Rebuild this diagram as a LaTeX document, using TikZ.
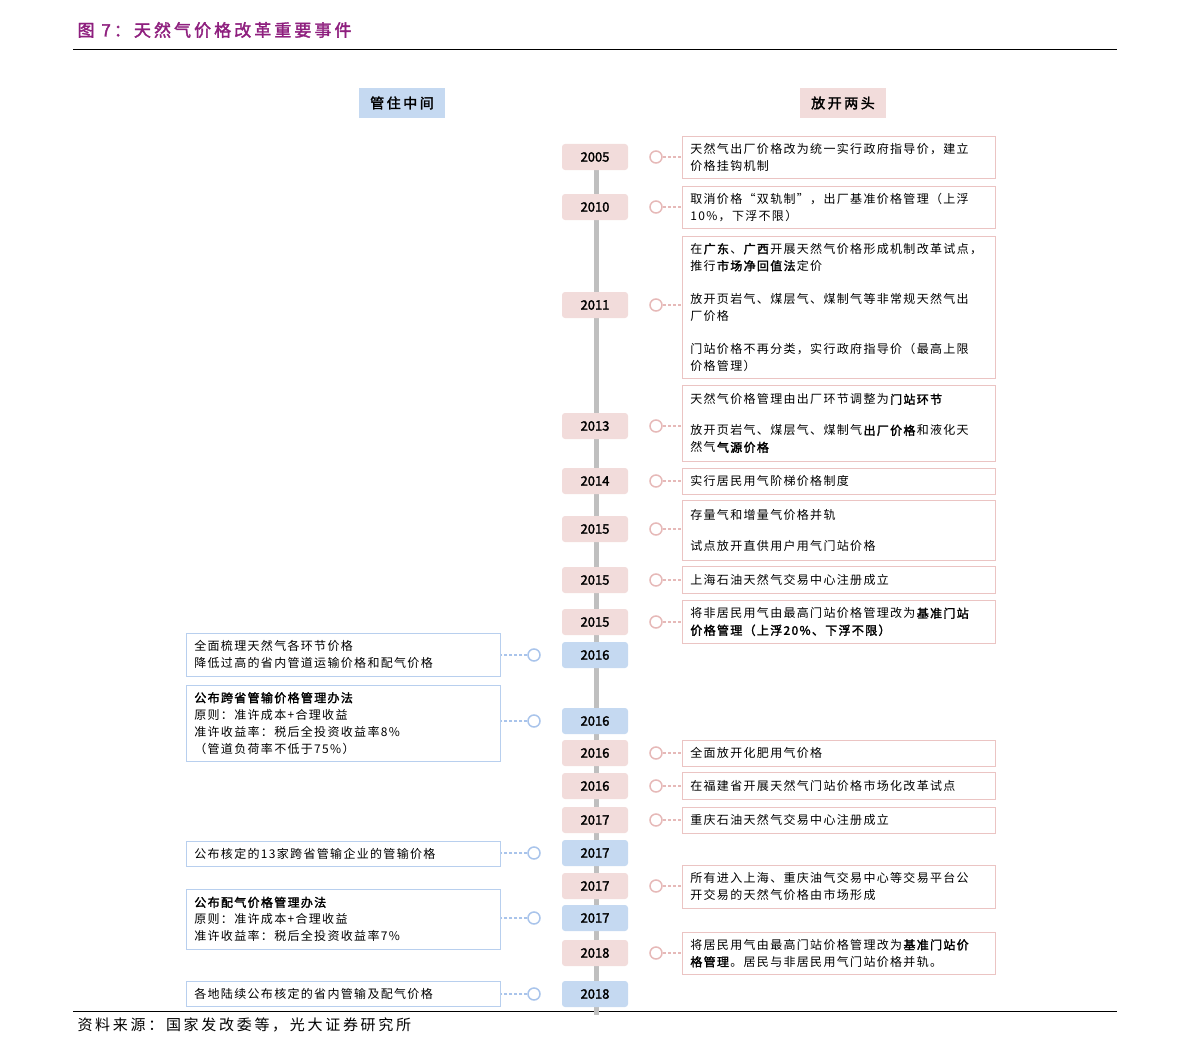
\documentclass[tikz,border=0pt]{standalone}
\usepackage{fontspec}
\setmainfont{Noto Sans CJK SC}[AutoFakeBold=2]
\newfontfamily\spc{Noto Sans CJK SC}[LetterSpace=18,AutoFakeBold=2]
\newfontfamily\spm{Noto Sans CJK SC}[LetterSpace=11,AutoFakeBold=2]
\definecolor{pk}{HTML}{F2DCDB}
\definecolor{pkl}{HTML}{EBC4C3}
\definecolor{pkc}{HTML}{E6B9B8}
\definecolor{bl}{HTML}{C5D9F1}
\definecolor{bll}{HTML}{B8CFEE}
\definecolor{blc}{HTML}{A9C4EB}
\definecolor{ttl}{HTML}{8E1F7E}
\begin{document}
\begin{tikzpicture}[x=1pt,y=-1pt,
  yr/.style={rounded corners=3pt,minimum width=66pt,minimum height=26pt,font=\fontsize{13}{14}\selectfont\bfseries,inner sep=0pt},
  ypk/.style={yr,fill=pk},
  ybl/.style={yr,fill=bl},
  rbox/.style={draw=pkl,line width=0.7pt,text width=297pt,minimum width=313pt,inner xsep=8pt,align=left,font=\spm\fontsize{12}{17}\selectfont,anchor=north west},
  lbox/.style={draw=bll,line width=0.7pt,text width=298pt,minimum width=314pt,inner xsep=8pt,align=left,font=\spm\fontsize{12}{17}\selectfont,anchor=north west},
  rc/.style={circle,draw=pkc,line width=1.5pt,minimum size=12pt,inner sep=0pt},
  lc/.style={circle,draw=blc,line width=1.5pt,minimum size=12pt,inner sep=0pt},
  rl/.style={draw=pkc,line width=1.3pt,dash pattern=on 3pt off 2pt},
  ll/.style={draw=blc,line width=1.3pt,dash pattern=on 3pt off 2pt}]
\useasboundingbox (0,0) rectangle (1191,1054);
\node[anchor=west,text=ttl,font=\spc\fontsize{17}{18}\selectfont\bfseries] (title) at (74,30) {图 7：天然气价格改革重要事件};
\draw[line width=0.8pt] (73,49) -- (1117,49);
\draw[line width=0.8pt] (73,1011) -- (1117,1011);
\node[anchor=west,font=\spc\fontsize{15}{16}\selectfont] (src) at (74,1025) {资料来源：国家发改委等，光大证券研究所};
\node[fill=bl,minimum width=86pt,minimum height=30pt,font=\spc\fontsize{14}{15}\selectfont\bfseries] (hl) at (402,103) {管住中间};
\node[fill=pk,minimum width=86pt,minimum height=30pt,font=\spc\fontsize{14}{15}\selectfont\bfseries] (hr) at (843,103) {放开两头};
\draw[line width=5pt,color=black!25] (596,145) -- (596,1015);
\newcommand\rev[6]{%
 \node[ypk] (y#1) at (595,#2) {#3};
 \node[rc] (c#1) at (656,#2) {};
 \node[rbox,minimum height=#5pt] (b#1) at (682,#4) {#6};
 \draw[rl] (c#1.east) -- (b#1.west |- c#1);}
\newcommand\lev[6]{%
 \node[ybl] (y#1) at (595,#2) {#3};
 \node[lc] (c#1) at (534,#2) {};
 \node[lbox,minimum height=#5pt] (b#1) at (186,#4) {#6};
 \draw[ll] (c#1.west) -- (b#1.east |- c#1);}
\rev{a}{157}{2005}{136}{42}{天然气出厂价格改为统一实行政府指导价，建立\\价格挂钩机制}
\rev{b}{207}{2010}{186}{42}{取消价格“双轨制”，出厂基准价格管理（上浮\\10\%，下浮不限）}
\rev{c}{305}{2011}{236}{142}{在\textbf{广东}、\textbf{广西}开展天然气价格形成机制改革试点，\\推行\textbf{市场净回值法}定价\\[16pt]放开页岩气、煤层气、煤制气等非常规天然气出\\厂价格\\[16pt]门站价格不再分类，实行政府指导价（最高上限\\价格管理）}
\rev{d}{426}{2013}{385}{76}{天然气价格管理由出厂环节调整为\textbf{门站环节}\\[14pt]放开页岩气、煤层气、煤制气\textbf{出厂价格}和液化天\\然气\textbf{气源价格}}
\rev{e}{481}{2014}{468}{26}{实行居民用气阶梯价格制度}
\rev{f}{529}{2015}{500}{60}{存量气和增量气价格并轨\\[14pt]试点放开直供用户用气门站价格}
\rev{g}{580}{2015}{566}{27}{上海石油天然气交易中心注册成立}
\rev{h}{622}{2015}{600}{43}{将非居民用气由最高门站价格管理改为\textbf{基准门站}\\\textbf{价格管理（上浮20\%、下浮不限）}}
\lev{i}{655}{2016}{633}{43}{全面梳理天然气各环节价格\\降低过高的省内管道运输价格和配气价格}
\lev{j}{721}{2016}{685}{76}{\textbf{公布跨省管输价格管理办法}\\原则：准许成本+合理收益\\准许收益率：税后全投资收益率8\%\\（管道负荷率不低于75\%）}
\rev{k}{753}{2016}{740}{26}{全面放开化肥用气价格}
\rev{l}{786}{2016}{772}{27}{在福建省开展天然气门站价格市场化改革试点}
\rev{m}{820}{2017}{807}{26}{重庆石油天然气交易中心注册成立}
\lev{n}{853}{2017}{841}{25}{公布核定的13家跨省管输企业的管输价格}
\rev{o}{886}{2017}{865}{43}{所有进入上海、重庆油气交易中心等交易平台公\\开交易的天然气价格由市场形成}
\lev{p}{918}{2017}{889}{60}{\textbf{公布配气价格管理办法}\\原则：准许成本+合理收益\\准许收益率：税后全投资收益率7\%}
\rev{q}{953}{2018}{932}{42}{将居民用气由最高门站价格管理改为\textbf{基准门站价}\\\textbf{格管理}。居民与非居民用气门站价格并轨。}
\lev{r}{994}{2018}{981}{25}{各地陆续公布核定的省内管输及配气价格}
\end{tikzpicture}
\end{document}
